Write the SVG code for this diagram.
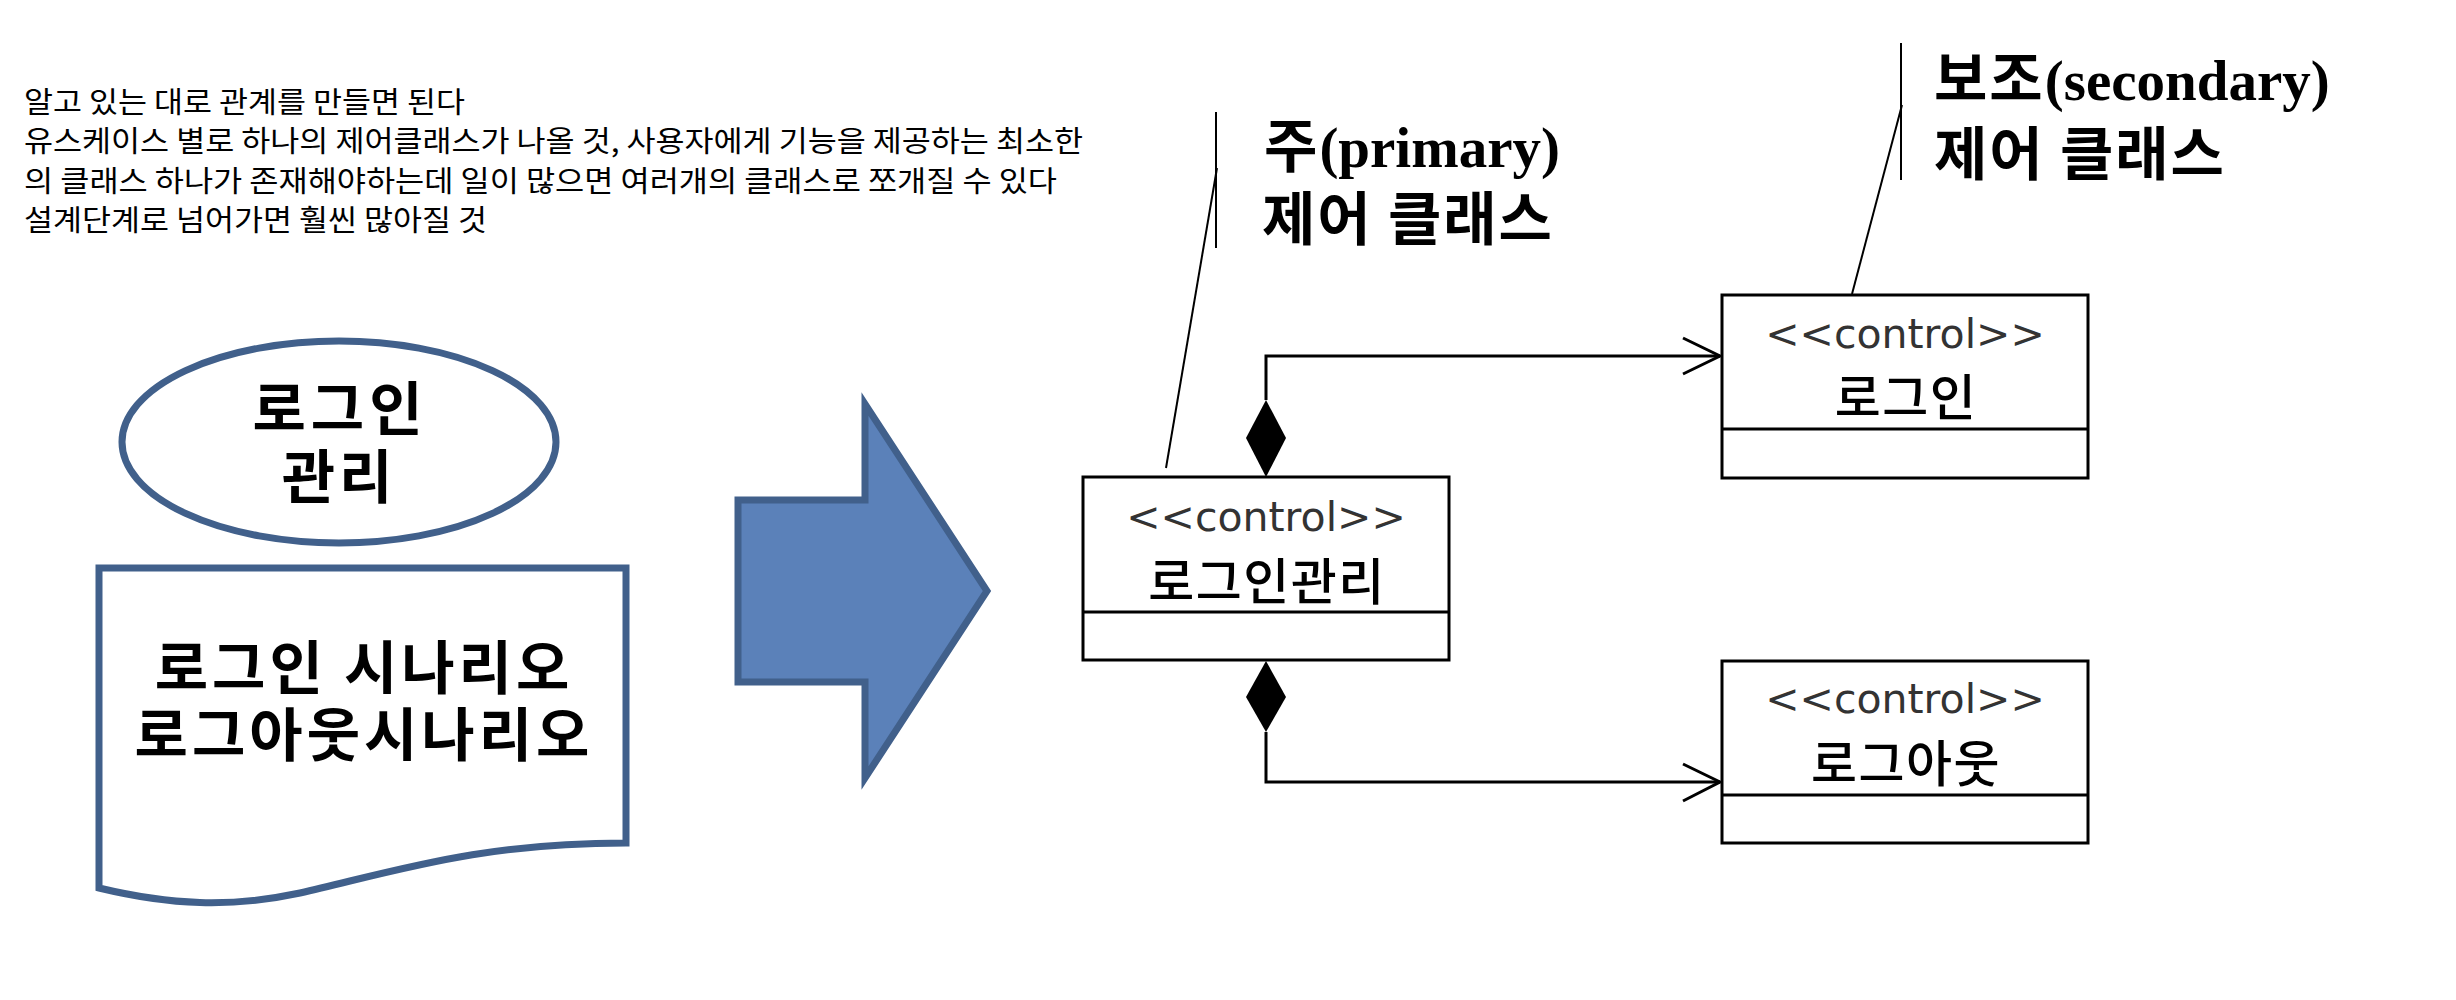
<svg xmlns="http://www.w3.org/2000/svg" width="2456" height="1000" viewBox="0 0 2456 1000">
<defs>
<style>
.note{font-family:"Noto Sans CJK KR","Noto Sans",sans-serif;font-size:29px;fill:#000}
.big{font-family:"Noto Sans CJK KR",sans-serif;font-weight:bold;font-size:58px;fill:#000;text-anchor:middle}
.lbl{font-family:"Noto Sans CJK KR",sans-serif;font-weight:bold;font-size:58px;fill:#000}
.lat{font-family:"Liberation Serif",serif;font-weight:bold;font-size:57px;letter-spacing:0}
.st{font-family:"DejaVu Sans",sans-serif;font-size:41px;fill:#333;text-anchor:middle}
.nm{font-family:"Noto Sans CJK KR",sans-serif;font-weight:500;font-size:50px;letter-spacing:1.5px;fill:#000;text-anchor:middle}
.box{fill:#fff;stroke:#000;stroke-width:3}
.ln{fill:none;stroke:#000;stroke-width:3}
.lead{fill:none;stroke:#000;stroke-width:2}
.dia{fill:#000;stroke:none}
.blue{stroke:#41608b;stroke-width:7}
</style>
</defs>
<rect width="2456" height="1000" fill="#fff"/>
<g id="notes">
<text class="note" x="24" y="113" textLength="441" lengthAdjust="spacingAndGlyphs">알고 있는 대로 관계를 만들면 된다</text>
<text class="note" x="24" y="152" textLength="1059" lengthAdjust="spacingAndGlyphs">유스케이스 별로 하나의 제어클래스가 나올 것, 사용자에게 기능을 제공하는 최소한</text>
<text class="note" x="24" y="192" textLength="1033" lengthAdjust="spacingAndGlyphs">의 클래스 하나가 존재해야하는데 일이 많으면 여러개의 클래스로 쪼개질 수 있다</text>
<text class="note" x="24" y="231" textLength="463" lengthAdjust="spacingAndGlyphs">설계단계로 넘어가면 훨씬 많아질 것</text>
</g>
<g id="usecase">
<ellipse cx="339" cy="442" rx="217" ry="101" fill="#fff" class="blue"/>
<text class="big" x="340" y="430" letter-spacing="5">로그인</text>
<text class="big" x="339" y="498" letter-spacing="4">관리</text>
</g>
<g id="scenario">
<path d="M99,568 H626 V843 C480,843 400,870 300,893 C230,908 170,905 99,888 Z" fill="#fff" class="blue"/>
<text class="big" x="364" y="689" letter-spacing="4">로그인 시나리오</text>
<text class="big" x="364" y="756" letter-spacing="4">로그아웃시나리오</text>
</g>
<g id="blockarrow">
<polygon points="738,500 865,500 865,404 987,591 865,778 865,682 738,682" fill="#5b81b9" stroke="#41608b" stroke-width="7"/>
</g>
<g id="primary-label">
<text class="lbl" x="1264" y="167" letter-spacing="2">주<tspan class="lat">(primary)</tspan></text>
<text class="lbl" x="1262" y="240" letter-spacing="2">제어 클래스</text>
<line class="lead" x1="1216" y1="112" x2="1216" y2="248"/>
<line class="lead" x1="1217" y1="168" x2="1166" y2="468"/>
</g>
<g id="secondary-label">
<text class="lbl" x="1934" y="100" letter-spacing="2">보조<tspan class="lat">(secondary)</tspan></text>
<text class="lbl" x="1934" y="175" letter-spacing="2">제어 클래스</text>
<line class="lead" x1="1901" y1="43" x2="1901" y2="180"/>
<line class="lead" x1="1902" y1="105" x2="1852" y2="294"/>
</g>
<g id="connectors">
<path class="ln" d="M1266,400 V356 H1720"/>
<polyline class="ln" points="1683,338 1720,356 1683,374"/>
<polygon class="dia" points="1266,400 1286,438 1266,477 1246,438"/>
<path class="ln" d="M1266,732 V782 H1720"/>
<polyline class="ln" points="1683,764 1720,782 1683,801"/>
<polygon class="dia" points="1266,661 1286,697 1266,732 1246,697"/>
</g>
<g id="login-manager">
<rect class="box" x="1083" y="477" width="366" height="183"/>
<line class="ln" x1="1083" y1="612" x2="1449" y2="612"/>
<text class="st" x="1266" y="531">&lt;&lt;control&gt;&gt;</text>
<text class="nm" x="1267" y="600">로그인관리</text>
</g>
<g id="login">
<rect class="box" x="1722" y="295" width="366" height="183"/>
<line class="ln" x1="1722" y1="429" x2="2088" y2="429"/>
<text class="st" x="1905" y="348">&lt;&lt;control&gt;&gt;</text>
<text class="nm" x="1906" y="416">로그인</text>
</g>
<g id="logout">
<rect class="box" x="1722" y="661" width="366" height="182"/>
<line class="ln" x1="1722" y1="795" x2="2088" y2="795"/>
<text class="st" x="1905" y="713">&lt;&lt;control&gt;&gt;</text>
<text class="nm" x="1906" y="782">로그아웃</text>
</g>
</svg>
